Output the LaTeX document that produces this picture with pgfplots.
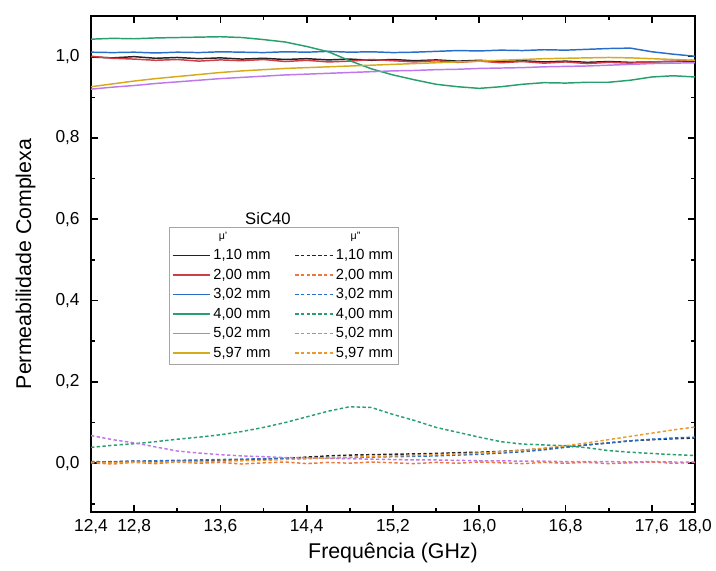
\documentclass[border=0pt]{standalone}
\usepackage{pgfplots}
\usepackage{pgfplotstable}
\pgfplotsset{compat=1.18}
\usepackage{fontspec}
\setmainfont{Liberation Sans}

\definecolor{c1}{RGB}{35,35,35}
\definecolor{c2}{RGB}{210,60,70}
\definecolor{c3}{RGB}{40,110,200}
\definecolor{c4}{RGB}{40,160,110}
\definecolor{c5}{RGB}{190,120,235}
\definecolor{c6}{RGB}{215,170,30}
\definecolor{d2}{RGB}{235,120,60}
\definecolor{d6}{RGB}{235,155,45}

\pgfplotstableread{
f    a1    a2    a3    a4    a5    a6
12.4 0.999 1.001 1.011 1.043 0.920 0.926
12.6 0.997 0.996 1.010 1.045 0.925 0.933
12.8 1.000 0.994 1.011 1.044 0.929 0.940
13.0 0.996 0.991 1.009 1.046 0.934 0.946
13.2 0.998 0.993 1.011 1.047 0.938 0.951
13.4 0.995 0.989 1.010 1.048 0.942 0.956
13.6 0.997 0.992 1.012 1.049 0.946 0.961
13.8 0.994 0.990 1.011 1.047 0.949 0.965
14.0 0.996 0.993 1.010 1.042 0.952 0.968
14.2 0.993 0.988 1.012 1.036 0.955 0.971
14.4 0.995 0.991 1.011 1.025 0.957 0.973
14.6 0.992 0.987 1.013 1.012 0.959 0.975
14.8 0.994 0.989 1.011 0.990 0.961 0.977
15.0 0.991 0.993 1.012 0.970 0.963 0.979
15.2 0.993 0.990 1.010 0.955 0.965 0.981
15.4 0.990 0.987 1.011 0.943 0.966 0.983
15.6 0.992 0.990 1.013 0.932 0.968 0.985
15.8 0.989 0.986 1.015 0.926 0.969 0.987
16.0 0.991 0.989 1.014 0.922 0.971 0.989
16.2 0.988 0.985 1.016 0.926 0.972 0.991
16.4 0.990 0.988 1.015 0.932 0.973 0.993
16.6 0.987 0.984 1.017 0.936 0.975 0.995
16.8 0.989 0.987 1.016 0.935 0.976 0.996
17.0 0.986 0.983 1.018 0.937 0.977 0.997
17.2 0.988 0.986 1.020 0.937 0.979 0.998
17.4 0.986 0.984 1.021 0.942 0.981 0.997
17.6 0.987 0.987 1.012 0.950 0.983 0.995
17.8 0.988 0.989 1.006 0.953 0.984 0.993
18.0 0.989 0.991 1.001 0.950 0.985 0.991
}\mupr

\pgfplotstableread{
f    b1    b2     b3    b4    b5    b6
12.4 0.004 0.001  0.003 0.039 0.068 0.002
12.6 0.003 -0.002 0.004 0.044 0.058 0.001
12.8 0.005 0.002  0.005 0.048 0.050 0.003
13.0 0.004 -0.001 0.006 0.053 0.040 0.002
13.2 0.006 0.003  0.007 0.059 0.030 0.004
13.4 0.005 0.000  0.008 0.064 0.025 0.003
13.6 0.007 0.002  0.009 0.070 0.021 0.005
13.8 0.008 -0.002 0.010 0.078 0.018 0.006
14.0 0.010 0.001  0.011 0.088 0.016 0.007
14.2 0.012 0.003  0.012 0.100 0.014 0.009
14.4 0.015 -0.001 0.012 0.114 0.013 0.011
14.6 0.018 0.002  0.013 0.128 0.012 0.013
14.8 0.020 0.000  0.014 0.139 0.011 0.015
15.0 0.021 0.003  0.015 0.137 0.010 0.016
15.2 0.022 0.001  0.016 0.120 0.009 0.018
15.4 0.023 -0.001 0.017 0.105 0.008 0.019
15.6 0.024 0.002  0.018 0.088 0.008 0.021
15.8 0.026 0.000  0.020 0.076 0.007 0.023
16.0 0.027 0.003  0.022 0.064 0.006 0.025
16.2 0.029 0.001  0.025 0.053 0.006 0.028
16.4 0.032 -0.001 0.028 0.047 0.005 0.032
16.6 0.036 0.002  0.033 0.045 0.005 0.037
16.8 0.040 0.000  0.039 0.043 0.004 0.043
17.0 0.045 0.002  0.045 0.038 0.004 0.050
17.2 0.050 -0.001 0.050 0.031 0.004 0.058
17.4 0.055 0.001  0.055 0.027 0.003 0.066
17.6 0.058 0.003  0.059 0.024 0.004 0.074
17.8 0.060 0.000  0.062 0.021 0.003 0.082
18.0 0.062 0.002  0.064 0.019 0.003 0.089
}\mudpr

\begin{document}
\begin{tikzpicture}
\begin{axis}[
  scale only axis,
  width=453pt, height=372pt,
  xmin=12.4, xmax=18.0, ymin=-0.12, ymax=1.1,
  xtick={12.4,12.8,13.6,14.4,15.2,16.0,16.8,17.6,18.0},
  minor xtick={13.2,14.0,14.8,15.6,16.4,17.2},
  ytick={0,0.2,0.4,0.6,0.8,1.0},
  minor ytick={-0.1,0.1,0.3,0.5,0.7,0.9,1.1},
  tick align=inside,
  major tick length=5pt, minor tick length=3pt,
  every tick/.style={black, line width=1.2pt},
  axis line style={line width=1.4pt},
  /pgf/number format/.cd, use comma, fixed, fixed zerofill, precision=1, assume math mode=true,
  /pgfplots/.cd,
  tick label style={font=\fontsize{13}{15}\selectfont},
  yticklabel style={xshift=-5pt},
  xticklabel style={yshift=-2pt},
  xlabel={Frequência (GHz)},
  ylabel={Permeabilidade Complexa},
  label style={font=\fontsize{16}{18}\selectfont},
  x label style={at={(axis description cs:0.5,0)}, anchor=center, yshift=-31pt},
  y label style={at={(axis description cs:0,0.5)}, anchor=center, yshift=49pt},
  legend columns=2,
  legend cell align=left,
  legend image code/.code={\draw[line width=1.1pt,#1] (0pt,0pt) -- (28pt,0pt);},
  legend style={at={(axis description cs:0.129,0.575)}, anchor=north west,
    draw=gray!70, fill=white, line width=0.6pt,
    font=\fontsize{11}{12}\selectfont,
    inner xsep=2pt, inner ysep=2pt, row sep=1.5pt,
    /tikz/every even column/.append style={column sep=16pt}},
  every axis plot/.append style={line width=1.1pt},
]
\addlegendimage{empty legend}
\addlegendentry{\hspace{4pt}{\footnotesize μ'}}
\addlegendimage{empty legend}
\addlegendentry{\hspace{11pt}{\footnotesize μ''}}

\addplot[c1] table[x=f,y=a1] {\mupr};
\addlegendentry{1,10 mm}
\addplot[c1, dash pattern=on 2.5pt off 1.8pt] table[x=f,y=b1] {\mudpr};
\addlegendentry{1,10 mm}
\addplot[c2] table[x=f,y=a2] {\mupr};
\addlegendentry{2,00 mm}
\addplot[d2, dash pattern=on 2.5pt off 1.8pt] table[x=f,y=b2] {\mudpr};
\addlegendentry{2,00 mm}
\addplot[c3] table[x=f,y=a3] {\mupr};
\addlegendentry{3,02 mm}
\addplot[c3, dash pattern=on 2.5pt off 1.8pt] table[x=f,y=b3] {\mudpr};
\addlegendentry{3,02 mm}
\addplot[c4] table[x=f,y=a4] {\mupr};
\addlegendentry{4,00 mm}
\addplot[c4, dash pattern=on 2.5pt off 1.8pt] table[x=f,y=b4] {\mudpr};
\addlegendentry{4,00 mm}
\addplot[c5] table[x=f,y=a5] {\mupr};
\addlegendentry{5,02 mm}
\addplot[c5, dash pattern=on 2.5pt off 1.8pt] table[x=f,y=b5] {\mudpr};
\addlegendentry{5,02 mm}
\addplot[c6] table[x=f,y=a6] {\mupr};
\addlegendentry{5,97 mm}
\addplot[d6, dash pattern=on 2.5pt off 1.8pt] table[x=f,y=b6] {\mudpr};
\addlegendentry{5,97 mm}

\node[font=\fontsize{12.5}{14}\selectfont] at (axis cs:14.04,0.603) {SiC40};
\end{axis}
\pgfresetboundingbox
\path[use as bounding box] ([shift={(-68.25pt,-43.5pt)}]current axis.south west) rectangle ([shift={(15.75pt,12pt)}]current axis.north east);
\end{tikzpicture}
\end{document}
